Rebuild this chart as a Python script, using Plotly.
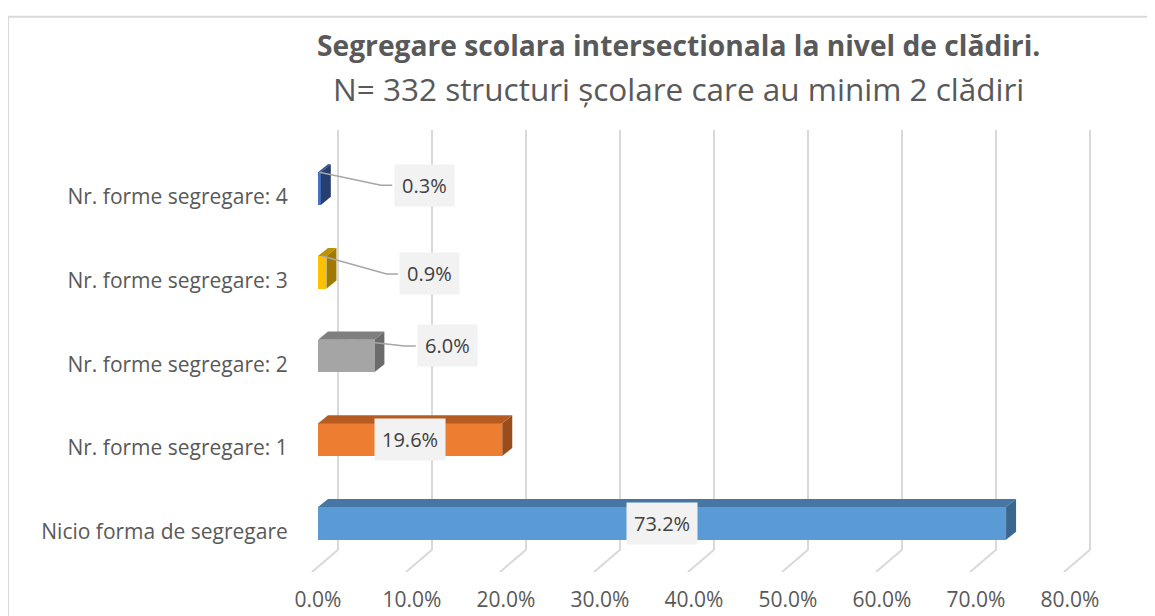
import plotly.graph_objects as go

# date
categorii = ["Nicio forma de segregare", "Nr. forme segregare: 1", "Nr. forme segregare: 2",
             "Nr. forme segregare: 3", "Nr. forme segregare: 4"]
procente = [73.2, 19.6, 6.0, 0.9, 0.3]
etichete = ["73.2%", "19.6%", "6.0%", "0.9%", "0.3%"]
ticks_x = [0, 10, 20, 30, 40, 50, 60, 70, 80]
ticks_text = ["0.0%", "10.0%", "20.0%", "30.0%", "40.0%", "50.0%", "60.0%", "70.0%", "80.0%"]

culori_fata = ["#5b9bd5", "#ed7d31", "#a5a5a5", "#ffc000", "#4472c4"]
culori_sus = ["#4676a3", "#b65c22", "#7f7f7f", "#bf9000", "#2f528f"]
culori_lat = ["#3a6690", "#9a4d1b", "#6b6b6b", "#a07a00", "#263f6e"]

# scara in pixeli (pentru efectul 3D)
PX = 9.4      # pixeli pe 1%
PY = 82.75    # pixeli pe categorie
dx = 10 / PX
dy = 8 / PY
bw = 0.39
pozitii = list(range(len(categorii)))
font = "Open Sans"

fig = go.Figure()

# grila de pe peretele din spate + podea (sub bare)
for t in ticks_x:
    xb = t + 20 / PX
    fig.add_shape(type="path", xref="x", yref="y", layer="below",
                  path=f"M {xb},4.70 L {xb},{-26 / PY} L {t - 6 / PX},-0.58",
                  line=dict(color="#d9d9d9", width=2))

# barele (fata)
fig.add_trace(go.Bar(
    x=procente, y=pozitii, orientation="h", width=bw,
    marker=dict(color=culori_fata, line=dict(width=0)),
    hoverinfo="skip", showlegend=False))

# fata de sus si laterala
for p, v, cs, cl in zip(pozitii, procente, culori_sus, culori_lat):
    top = p + bw / 2
    bot = p - bw / 2
    fig.add_trace(go.Scatter(
        x=[0, v, v + dx, dx, 0], y=[top, top, top + dy, top + dy, top],
        fill="toself", fillcolor=cs, mode="lines", line=dict(width=0),
        hoverinfo="skip", showlegend=False))
    fig.add_trace(go.Scatter(
        x=[v, v + dx, v + dx, v, v], y=[bot, bot + dy, top + dy, top, bot],
        fill="toself", fillcolor=cl, mode="lines", line=dict(width=0),
        hoverinfo="skip", showlegend=False))

# etichete de date
eticheta_poz = [(None, 0), (None, 1), (13.8, 2.12), (11.9, 2.98), (11.3, 4.04)]
for i, (v, txt, (ex, ey)) in enumerate(zip(procente, etichete, eticheta_poz)):
    if ex is None:
        ex, ey = v / 2, pozitii[i]
    else:
        # linie de legatura
        x0 = v * 0.5 if v < 2 else v * 0.55
        y0 = pozitii[i] + bw / 2
        fig.add_trace(go.Scatter(
            x=[x0, ex - 4.6, ex - 3.4], y=[y0, ey, ey],
            mode="lines", line=dict(color="#a6a6a6", width=1.5),
            hoverinfo="skip", showlegend=False))
    fig.add_annotation(
        x=ex, y=ey, text=txt, showarrow=False,
        font=dict(family=font, size=20, color="#404040"),
        bgcolor="#f2f2f2", borderpad=7)

# titlu
fig.add_annotation(
    x=0.470, y=1.192, xref="paper", yref="paper", showarrow=False, yanchor="middle",
    text="<b>Segregare scolara intersectionala la nivel de clădiri.</b>",
    font=dict(family=font, size=28.2, color="#595959"))
fig.add_annotation(
    x=0.470, y=1.095, xref="paper", yref="paper", showarrow=False, yanchor="middle",
    text="N= 332 structuri școlare care au minim 2 clădiri",
    font=dict(family=font, size=31.5, color="#595959"))

# chenar exterior
fig.add_shape(type="rect", xref="paper", yref="paper",
              x0=-0.3736, y0=-0.14, x1=1.12, y1=1.2560,
              line=dict(color="#d9d9d9", width=2), fillcolor="rgba(0,0,0,0)", layer="below")

fig.update_layout(
    width=1155, height=616,
    margin=dict(l=297, r=63, t=122, b=52),
    plot_bgcolor="white", paper_bgcolor="white",
    bargap=0,
    xaxis=dict(range=[-13 / PX, 782 / PX], tickvals=ticks_x, ticktext=ticks_text,
               showgrid=False, zeroline=False, showline=False, automargin=False,
               ticks="outside", ticklen=9, tickcolor="rgba(0,0,0,0)",
               tickfont=dict(family=font, size=21, color="#595959")),
    yaxis=dict(range=[-0.58, 4.70], tickvals=[p - 0.1 for p in pozitii], ticktext=categorii,
               showgrid=False, zeroline=False, showline=False, automargin=False,
               ticks="outside", ticklen=12, tickcolor="rgba(0,0,0,0)",
               tickfont=dict(family=font, size=21, color="#595959")),
)

fig.write_html("out.html")
